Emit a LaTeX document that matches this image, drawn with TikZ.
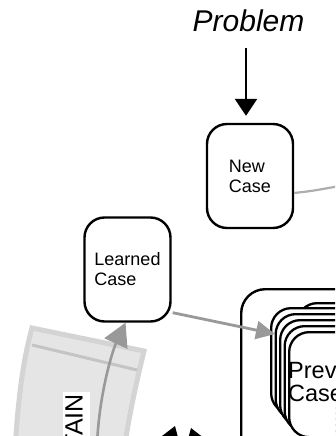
\documentclass[tikz,border=0pt]{standalone}
\usepackage{fontspec}
\setmainfont{Liberation Sans}
\usetikzlibrary{arrows.meta}
\definecolor{arrowgray}{gray}{0.6}
\definecolor{linkgray}{gray}{0.68}
\definecolor{bandfill}{gray}{0.9}
\definecolor{banddraw}{gray}{0.83}
\definecolor{bandline}{gray}{0.77}

\begin{document}
\begin{tikzpicture}[x=1pt, y=-1pt,
    casebox/.style={draw, line width=2.4pt, rounded corners=20pt, fill=white, minimum width=86pt, minimum height=104pt, align=left, font=\fontsize{18}{20}\selectfont},
    card/.style={draw, line width=2.3pt, rounded corners=20pt, fill=white, minimum width=120pt, minimum height=105pt, anchor=north west},
    blackarrow/.style={draw, line width=2.5pt, -{Triangle[length=17pt, width=22pt]}},
    grayarrow/.style={draw=arrowgray, line width=2.8pt, -{Triangle[length=19pt, width=18pt]}}]
    \useasboundingbox (0,0) rectangle (335,436);
    \clip (0,0) rectangle (335,436);
    \fill[white] (0,0) rectangle (335,436);

    % Draw the retain band
    \filldraw[fill=bandfill, draw=banddraw, line width=5pt] (32,328) -- (144,351) .. controls (137,380) and (130,410) .. (124,450) -- (15,450) .. controls (18,400) and (23,360) .. (32,328) -- cycle;
    \draw[bandline, line width=3pt] (32,345) -- (137,370);
    \node[rotate=90, anchor=east, fill=white, inner sep=2pt, text depth=5pt, font=\fontsize{25}{25}\selectfont] (retain) at (76.5,392) {RETAIN};

    % Draw the case nodes
    \node[anchor=base, font=\fontsize{30}{36}\selectfont\itshape] (problem) at (248.5,32) {Problem};
    \node[casebox] (newcase) at (250,176) {New\\Case};
    \node[casebox] (learned) at (127.5,269.5) {Learned\\Case};

    % Draw the case base with its stack of cards
    \node[draw, line width=2.4pt, rounded corners=24pt, fill=white, anchor=north west, minimum width=200pt, minimum height=250pt] (casebase) at (240,288) {};
    \node[card] (card0) at (296,302) {};
    \foreach \i/\x/\y in {1/270/307, 2/274.5/313, 3/279/319, 4/283.5/325, 5/288/331}
        \node[card] (card\i) at (\x,\y) {};
    \node[anchor=north west, inner sep=0pt, align=left, font=\fontsize{23.5}{23}\selectfont] (prevcases) at (288,361) {Previous\\Cases};

    % Loose ends leaving the picture
    \coordinate (retrieve) at (345,185);
    \coordinate (retainfoot) at (97,445);
    \coordinate (leftfoot) at (160,470);
    \coordinate (lefttip) at (175,426);
    \coordinate (rightfoot) at (205,470);
    \coordinate (righttip) at (191,428);

    % Draw all connectors
    \draw[blackarrow, shorten <=12pt, shorten >=7pt] ([xshift=-2.5pt]problem.south) -- ([xshift=-4pt]newcase.north);
    \draw[linkgray, line width=2.2pt] ([yshift=-17pt]newcase.east) .. controls (312,191) .. (retrieve);
    \draw[grayarrow] ([shift={(1,-10)}]learned.south east) -- ([shift={(-13,3)}]card5.north west);
    \draw[draw=arrowgray, line width=2.6pt, -{Triangle[length=23pt, width=25pt]}] (retainfoot) .. controls (99,395) and (112,352) .. ([xshift=-2pt]learned.south);
    \draw[blackarrow] (leftfoot) -- (lefttip);
    \draw[blackarrow] (rightfoot) -- (righttip);

\end{tikzpicture}
\end{document}
